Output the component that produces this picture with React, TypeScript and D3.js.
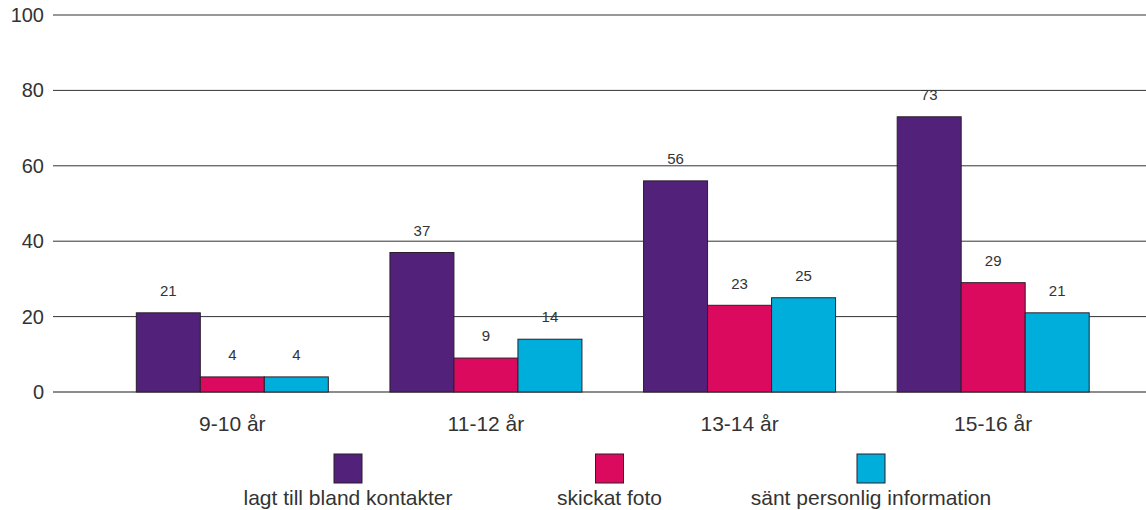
import React from "react";
import * as d3 from "d3";

const categories = ["9-10 år", "11-12 år", "13-14 år", "15-16 år"];
const seriesNames = ["lagt till bland kontakter", "skickat foto", "sänt personlig information"];
const kontakter = [21, 37, 56, 73];
const foto = [4, 9, 23, 29];
const information = [4, 14, 25, 21];
const yTicks = [0, 20, 40, 60, 80, 100];
const colors = ["#52217A", "#DC0A5F", "#00AEDB"];

const W = 1146;
const H = 510;

export default function App() {
  const series = [kontakter, foto, information];
  const y = d3.scaleLinear().domain([0, 100]).range([392, 15]);
  const x = d3.scaleBand<string>().domain(categories).range([105.5, 1120]).padding(0);
  const step = x.step();
  const groupW = 192;
  const inner = d3.scaleBand<number>().domain([0, 1, 2]).range([0, groupW]).padding(0);
  const legendX = d3.scalePoint<string>().domain(seriesNames).range([348, 871]);
  const font = "'Liberation Sans', Arial, Helvetica, sans-serif";

  return (
    <svg width={W} height={H} style={{ position: "absolute", left: 0, top: 0 }} fontFamily={font}>
      {yTicks.map((t) => (
        <g key={t}>
          <line x1={53} x2={W} y1={y(t)} y2={y(t)} stroke={t === 0 ? "#666" : "#333"} strokeWidth={t === 0 ? 1.5 : 1} />
          <text x={44} y={y(t)} dy="0.35em" textAnchor="end" fontSize={20} fill="#333">{t}</text>
        </g>
      ))}
      {categories.map((c, i) => {
        const gx = (x(c) ?? 0) + (step - groupW) / 2;
        return (
          <g key={c}>
            {series.map((s, j) => {
              const bx = gx + (inner(j) ?? 0);
              const v = s[i];
              return (
                <g key={j}>
                  <rect x={bx} y={y(v)} width={inner.bandwidth()} height={y(0) - y(v)} fill={colors[j]} stroke="#2a1f2a" strokeWidth={1} />
                  <text x={bx + inner.bandwidth() / 2} y={y(v) - 22} dy="0.35em" textAnchor="middle" fontSize={15} fill="#333">{v}</text>
                </g>
              );
            })}
            <text x={(x(c) ?? 0) + step / 2} y={424} dy="0.35em" textAnchor="middle" fontSize={21} fill="#333">{c}</text>
          </g>
        );
      })}
      {seriesNames.map((n, j) => {
        const cx = legendX(n) ?? 0;
        return (
          <g key={n}>
            <rect x={cx - 14} y={454} width={28} height={29} fill={colors[j]} stroke="#2a1f2a" strokeWidth={1} />
            <text x={cx} y={498} dy="0.35em" textAnchor="middle" fontSize={21} fill="#333">{n}</text>
          </g>
        );
      })}
    </svg>
  );
}
